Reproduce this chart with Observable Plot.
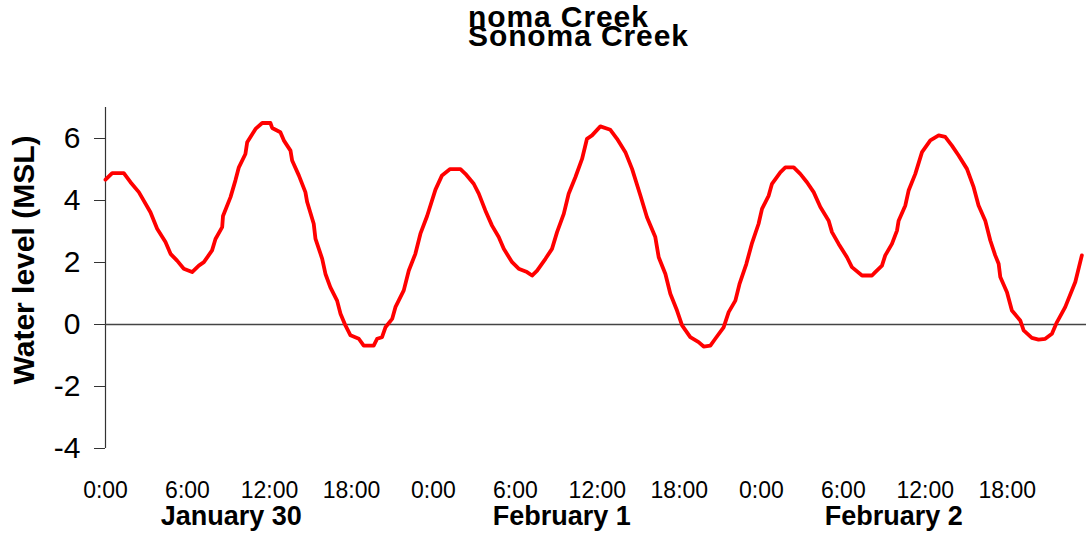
<!DOCTYPE html>
<html>
<head>
<meta charset="utf-8">
<script src="https://cdn.jsdelivr.net/npm/d3@7"></script>
<script src="https://cdn.jsdelivr.net/npm/@observablehq/plot@0.6"></script>
<style>
  body { margin: 0; background: #fff; font-family: "Liberation Sans", Arial, sans-serif; }
  #wrap { position: relative; width: 1086px; height: 544px; }
  .ttl { position: absolute; left: 468px; font-weight: bold; font-size: 30px; line-height: 30px; letter-spacing: 0.9px; color: #000; white-space: nowrap; }
  #chart { position: absolute; left: 0; top: 0; }
</style>
</head>
<body>
<div id="wrap">
  <div id="chart"></div>
  <div class="ttl" style="top:2px">noma Creek</div>
  <div class="ttl" style="top:21px">Sonoma Creek</div>
</div>
<script>
// hours since 0:00 on the first day, water level in feet (MSL)
const hours = [0, 0.49, 1.34, 1.83, 2.44, 3.29, 3.78, 4.39, 4.76, 5.24, 5.73, 6.34, 6.83, 7.2, 7.8, 8.05, 8.54, 8.6,
  9.15, 9.51, 9.76, 10.24, 10.37, 10.98, 11.47, 12.07, 12.2, 12.8, 13.05, 13.54, 13.66, 14.15, 14.63, 14.76, 15.24,
  15.37, 15.86, 16.1, 16.46, 16.95, 17.2, 17.56, 17.93, 18.54, 18.9, 19.63, 19.88, 20.24, 20.49, 20.98, 21.22, 21.83,
  22.2, 22.68, 23.05, 23.54, 24.15, 24.63, 25.2, 25.98, 26.34, 26.95, 27.32, 27.8, 28.29, 28.78, 29.15, 29.76, 30.24,
  30.85, 31.22, 31.59, 32.2, 32.68, 33.05, 33.54, 33.9, 34.39, 34.88, 35.24, 35.61, 36.22, 36.95, 37.44, 38.05, 38.54,
  39.15, 39.63, 40.24, 40.49, 40.98, 41.34, 41.83, 42.2, 42.8, 43.41, 43.78, 44.27, 44.63, 45.24, 45.61, 46.1, 46.4,
  46.9, 47.3, 47.8, 48.05, 48.54, 48.78, 49.39, 49.76, 50.37, 50.85, 51.34, 51.83, 52.32, 52.93, 53.17, 53.66, 54.27,
  54.63, 55.37, 56.1, 56.34, 56.83, 57.07, 57.56, 57.93, 58.05, 58.54, 58.78, 59.27, 59.76, 60.37, 60.98, 61.46, 61.95,
  62.44, 63.05, 63.54, 63.9, 64.39, 64.76, 65.12, 65.37, 65.49, 65.98, 66.34, 66.95, 67.2, 67.8, 68.29, 68.78, 69.27,
  69.63, 70.24, 70.98, 71.46];
const level = [4.67, 4.88, 4.88, 4.59, 4.27, 3.62, 3.09, 2.66, 2.28, 2.06, 1.8, 1.69, 1.9, 2.01, 2.39, 2.76, 3.14, 3.5,
  4.11, 4.65, 5.07, 5.5, 5.88, 6.31, 6.5, 6.5, 6.34, 6.2, 5.94, 5.61, 5.29, 4.81, 4.27, 3.95, 3.25,
  2.76, 2.12, 1.63, 1.2, 0.77, 0.35, -0.03, -0.35, -0.46, -0.68, -0.68, -0.46, -0.41, -0.09, 0.18, 0.56, 1.1,
  1.74, 2.28, 2.93, 3.5, 4.35, 4.81, 5.01, 5.01, 4.86, 4.54, 4.22, 3.68, 3.19, 2.82, 2.44, 2.01, 1.8,
  1.69, 1.58, 1.74, 2.12, 2.44, 2.98, 3.57, 4.22, 4.75, 5.34, 5.99, 6.1, 6.39, 6.28, 5.99, 5.56, 5.02,
  4.16, 3.46, 2.82, 2.17, 1.63, 0.99, 0.45, -0.03, -0.41, -0.57, -0.71, -0.68, -0.46, -0.09, 0.4, 0.77, 1.3,
  1.95, 2.6, 3.25, 3.73, 4.16, 4.54, 4.91, 5.07, 5.07, 4.86, 4.59, 4.27, 3.79, 3.35, 2.98, 2.6, 2.17,
  1.85, 1.58, 1.58, 1.69, 1.9, 2.23, 2.6, 3.03, 3.35, 3.84, 4.32, 4.86, 5.56, 5.94, 6.1, 6.05, 5.77,
  5.45, 5.02, 4.43, 3.84, 3.35, 2.71, 2.23, 1.96, 1.53, 1.04, 0.45, 0.13, -0.19, -0.43, -0.49, -0.46, -0.3,
  0.07, 0.56, 1.37, 2.23];

const tickHours = [0, 6, 12, 18, 24, 30, 36, 42, 48, 54, 60, 66];
const tickLabels = ["0:00", "6:00", "12:00", "18:00", "0:00", "6:00", "12:00", "18:00", "0:00", "6:00", "12:00", "18:00"];
const yTicks = [-4, -2, 0, 2, 4, 6];
const dayNames = ["January 30", "February 1", "February 2"];
const dayHours = [9.2, 33.4, 57.7];
const yLabel = "Water level (MSL)";

const series = hours.map((h, i) => ({h, v: level[i]}));
const days = dayNames.map((d, i) => ({d, h: dayHours[i]}));

const chart = Plot.plot({
  width: 1086,
  height: 544,
  marginTop: 107,
  marginBottom: 96,
  marginLeft: 105,
  marginRight: 0,
  style: {fontFamily: "'Liberation Sans', Arial, sans-serif", color: "#000", background: "#fff"},
  x: {domain: [0, 71.8]},
  y: {domain: [-4, 7]},
  marks: [
    Plot.ruleX([0], {stroke: "#333", strokeWidth: 1.2}),
    Plot.ruleY([0], {stroke: "#444", strokeWidth: 1.3}),
    Plot.axisY({ticks: yTicks, tickFormat: () => "", tickSize: 11, label: null, stroke: "#333"}),
    Plot.text(yTicks, {y: (d) => d, text: (d) => String(d), frameAnchor: "left", textAnchor: "end", dx: -25, fontSize: 30}),
    Plot.axisX({ticks: tickHours, tickFormat: (d) => tickLabels[tickHours.indexOf(d)], tickSize: 0, tickPadding: 33, fontSize: 23, label: null}),
    Plot.line(series, {x: "h", y: "v", stroke: "#ff0000", strokeWidth: 3.8}),
    Plot.text(days, {x: "h", text: "d", frameAnchor: "bottom", dy: 76, fontSize: 27, fontWeight: "bold", ariaLabel: "days"}),
    Plot.text([yLabel], {frameAnchor: "left", textAnchor: "middle", rotate: -90, dx: -81, dy: -18, fontSize: 30, fontWeight: "bold", ariaLabel: "ylab"})
  ]
});

d3.select(chart).selectAll("g[aria-label=days] text").style("letter-spacing", "1px");
d3.select(chart).selectAll("g[aria-label=ylab] text").style("letter-spacing", "1.3px");

d3.select("#chart").append(() => chart);
</script>
</body>
</html>
